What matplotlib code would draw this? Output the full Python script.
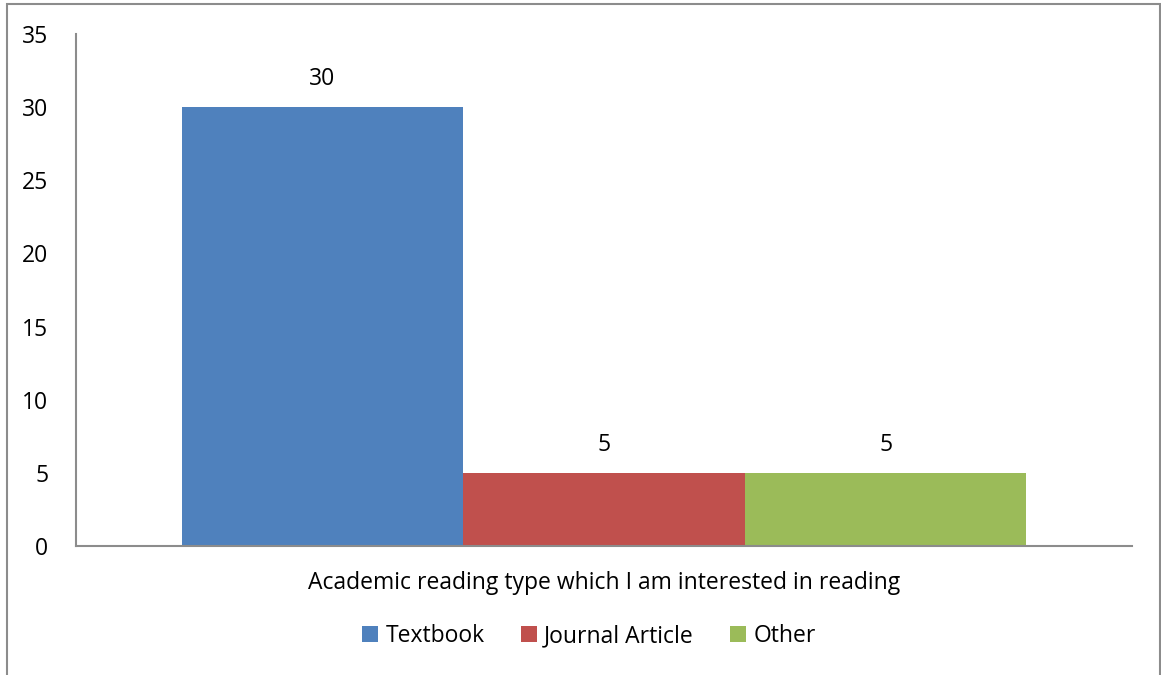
import matplotlib.pyplot as plt
from matplotlib.patches import Rectangle

categories = ['Textbook', 'Journal Article', 'Other']
values = [30, 5, 5]
colors = ['#4F81BD', '#C0504D', '#9BBB59']
yticks = [0, 5, 10, 15, 20, 25, 30, 35]

plt.rcParams['font.family'] = ['Open Sans', 'DejaVu Sans']
fs = 16.5

fig = plt.figure(figsize=(11.61, 6.75), dpi=100)
ax = fig.add_axes([76 / 1161, 129 / 675, 1056 / 1161, 512 / 675])

handles = []
for i, (name, val, col) in enumerate(zip(categories, values, colors)):
    b = ax.bar(i, val, width=1.0, color=col, label=name)
    handles.append(b)
    ax.text(i, val + 1.1, str(val), ha='center', va='bottom', fontsize=fs)

ax.set_xlim(-0.875, 2.875)
ax.set_ylim(0, 35)
ax.set_yticks(yticks)
ax.set_xticks([])
ax.tick_params(axis='y', length=0, pad=20, labelsize=fs)
for lbl in ax.get_yticklabels():
    lbl.set_horizontalalignment('right')

for s in ['top', 'right']:
    ax.spines[s].set_visible(False)
for s in ['left', 'bottom']:
    ax.spines[s].set_color('#8c8c8c')
    ax.spines[s].set_linewidth(1.5)

ax.set_xlabel('Academic reading type which I am interested in reading', fontsize=fs, labelpad=18)

fig.legend(handles=handles, labels=categories, loc='center', bbox_to_anchor=(589 / 1161, 1 - 636 / 675),
           ncol=3, frameon=False, fontsize=fs, handlelength=0.7, handleheight=0.7,
           handletextpad=0.3, columnspacing=1.6)

# chart border
fig.patches.append(Rectangle((7 / 1161, -0.01), 1153 / 1161, 1 - 4 / 675 + 0.01, transform=fig.transFigure,
                             fill=False, edgecolor='#8c8c8c', linewidth=1.5))

fig.savefig('out.png', dpi=100)
